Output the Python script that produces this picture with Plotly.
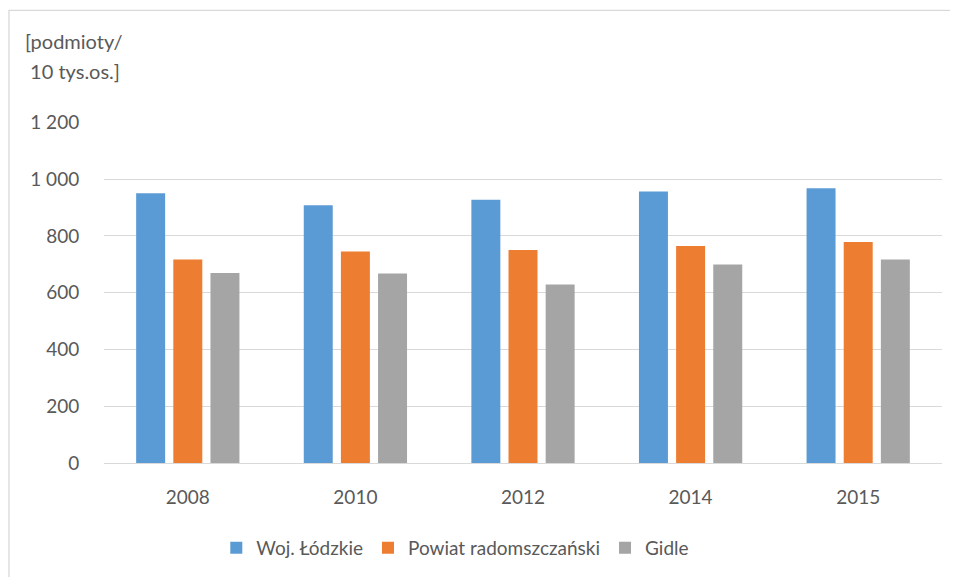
import plotly.graph_objects as go

years = ["2008", "2010", "2012", "2014", "2015"]
woj_lodzkie = [950, 908, 927, 956, 968]
powiat_radomszczanski = [717, 745, 750, 764, 778]
gidle = [669, 667, 629, 699, 717]

series_names = ["Woj. Łódzkie", "Powiat radomszczański", "Gidle"]
colors = ["#5B9BD5", "#ED7D31", "#A5A5A5"]
y_ticks = [0, 200, 400, 600, 800, 1000, 1200]

fig = go.Figure()
for name, vals, col in zip(series_names, [woj_lodzkie, powiat_radomszczanski, gidle], colors):
    fig.add_trace(go.Bar(
        x=years, y=vals, name=name,
        marker=dict(color=col, line=dict(width=0)),
        hoverinfo="x+y+name",
    ))

text_col = "#595959"
grid_col = "#D9D9D9"

# the page body keeps an 8px margin, so the figure is sized to fit inside it
fig.update_layout(
    width=950, height=569,
    barmode="group",
    bargap=0.335,
    bargroupgap=0.22,
    separators=", ",
    plot_bgcolor="white",
    paper_bgcolor="white",
    font=dict(family="Lato, Open Sans, sans-serif", size=19, color=text_col),
    margin=dict(l=96, r=16, t=114, b=113),
    xaxis=dict(
        type="category",
        showgrid=False, zeroline=False,
        showline=False,
        ticks="outside", ticklen=17, tickcolor="rgba(0,0,0,0)",
        tickfont=dict(size=19, color=text_col),
    ),
    yaxis=dict(
        range=[0, 1201],
        tickvals=y_ticks,
        tickformat=",d",
        showgrid=True, gridcolor=grid_col, gridwidth=1.3,
        zeroline=True, zerolinecolor=grid_col, zerolinewidth=1.3,
        ticks="outside", ticklen=20, tickcolor="rgba(0,0,0,0)",
        tickfont=dict(size=19, color=text_col),
    ),
    showlegend=True,
    legend=dict(
        orientation="h",
        x=0.134, xanchor="left",
        y=-0.245, yanchor="middle",
        font=dict(size=19, color=text_col),
        itemwidth=30,
        traceorder="normal",
    ),
    annotations=[
        dict(text="[podmioty/", xref="paper", yref="paper",
             x=-0.097, y=1.239, xanchor="left", yanchor="middle",
             showarrow=False, font=dict(size=20, color=text_col)),
        dict(text=" 10 tys.os.]", xref="paper", yref="paper",
             x=-0.097, y=1.151, xanchor="left", yanchor="middle",
             showarrow=False, font=dict(size=20, color=text_col)),
    ],
    shapes=[dict(
        type="rect", xref="paper", yref="paper",
        x0=-0.1134, x1=1.05, y0=-0.45, y1=1.3275,
        line=dict(color=grid_col, width=1.3),
        fillcolor="rgba(0,0,0,0)", layer="below",
    )],
)

fig.write_html("out.html")
